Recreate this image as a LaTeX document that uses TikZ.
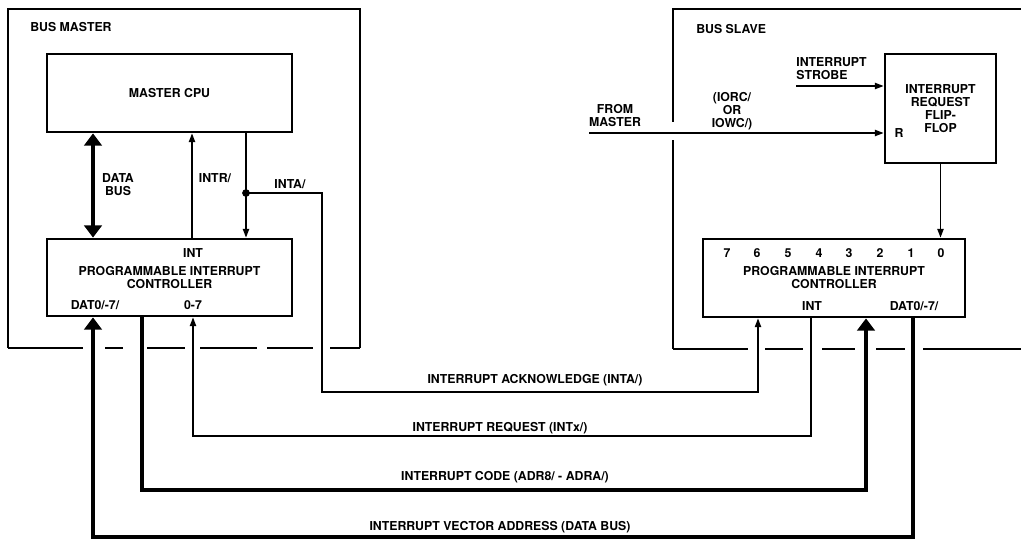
\documentclass[tikz,border=0pt]{standalone}
\usepackage{fontspec}
\setmainfont{TeX Gyre Heros}
\usetikzlibrary{arrows.meta}
\tikzset{blk/.style={draw, line width=1.6pt, inner sep=0pt, align=center}}
\tikzset{sig/.style={line width=0.8pt}}
\tikzset{bus/.style={line width=2.8pt}}
\tikzstyle{frame}=[line width=0.8pt]
\tikzstyle{lbl}=[inner sep=0pt, align=center]

\begin{document}
\begin{tikzpicture}[x=0.02cm, y=-0.02cm, >={Triangle[length=5pt,width=3.6pt]},
  font=\fontsize{7}{7.4}\selectfont\bfseries]
\useasboundingbox (0,0) rectangle (1021,549);
% bus master side
\draw[frame] (8,348) -- (8,9) -- (360,9) -- (360,348);
\foreach \a/\b in {8/83,105/123,147/185,200/257,267/313,330/360}
  \draw[frame] (\a,348) -- (\b,348);
\node[lbl, anchor=west] (mlab) at (30,27) {BUS MASTER};
\node[blk, minimum width=4.9cm, minimum height=1.56cm] (cpu) at (169.5,93) {MASTER CPU};
\node[blk, minimum width=4.9cm, minimum height=1.54cm] (picm) at (169.5,277.5) {PROGRAMMABLE INTERRUPT\\CONTROLLER};
\node[lbl] (mint) at (193,253) {INT};
\node[lbl] (mdat) at (95,305) {DAT0/-7/};
\node[lbl] (mir) at (193,305) {0-7};
\draw[bus, {Triangle[length=7pt,width=10pt]}-{Triangle[length=7pt,width=10pt]}] (93,0 |- cpu.south) -- (93,0 |- picm.north);
\node[lbl] (dbus) at (118,185) {DATA\\BUS};
\draw[sig,->] (192,0 |- picm.north) -- (192,0 |- cpu.south);
\node[lbl] (intr) at (215,178) {INTR/};
\draw[sig,->] (246,0 |- cpu.south) -- (246,0 |- picm.north);
\node[lbl] (inta) at (290,184) {INTA/};
\coordinate (tap) at (246,193);
\fill (tap) circle (2.2pt);
% bus slave side
\draw[frame] (1021,9) -- (673,9) -- (673,122);
\draw[frame] (673,140) -- (673,349);
\foreach \a/\b in {673/748,765/803,822/855,876/905,923/1021}
  \draw[frame] (\a,349) -- (\b,349);
\node[lbl, anchor=west] (slab) at (696,29) {BUS SLAVE};
\node[blk, minimum width=2.22cm, minimum height=2.18cm] (ff) at (940.5,108.5) {INTERRUPT\\REQUEST\\FLIP-\\FLOP};
\node[lbl] (rin) at (899,133) {R};
\node[blk, minimum width=5.24cm, minimum height=1.56cm] (pics) at (834,278) {PROGRAMMABLE INTERRUPT\\CONTROLLER};
\foreach \n/\x in {7/727,6/757,5/788,4/819,3/849,2/880,1/911,0/941}
  \node[lbl] (ir\n) at (\x,253) {\n};
\node[lbl] (sint) at (812,306) {INT};
\node[lbl] (sdat) at (914,306) {DAT0/-7/};
\node[lbl, align=left, anchor=west] (strb) at (796,69) {INTERRUPT\\STROBE};
\coordinate (strobe) at (796,86);
\draw[sig,->] (strobe) -- (strobe -| ff.west);
\node[lbl] (from) at (615,116) {FROM\\MASTER};
\node[lbl] (iorc) at (732,111) {(IORC/\\OR\\IOWC/)};
\coordinate (frm) at (589,133);
\draw[sig,->] (frm) -- (frm -| ff.west);
\draw[sig,->] (ff.south) -- (ff.south |- pics.north);
% links between the two sides
\draw[sig,->] (tap) -| (322,392) -| (758,0 |- pics.south);
\node[lbl] (ack) at (535,380) {INTERRUPT ACKNOWLEDGE (INTA/)};
\draw[sig,->] (811,0 |- pics.south) |- (193,436) -- (193,0 |- picm.south);
\node[lbl] (req) at (500,428) {INTERRUPT REQUEST (INTx/)};
\draw[bus,-{Triangle[length=7pt,width=10pt]}] (142,0 |- picm.south) |- (866,490) -- (866,0 |- pics.south);
\node[lbl] (code) at (505,477) {INTERRUPT CODE (ADR8/ - ADRA/)};
\draw[bus,-{Triangle[length=7pt,width=10pt]}] (913,0 |- pics.south) |- (93,537) -- (93,0 |- picm.south);
\node[lbl] (vec) at (500,527) {INTERRUPT VECTOR ADDRESS (DATA BUS)};
\end{tikzpicture}
\end{document}
